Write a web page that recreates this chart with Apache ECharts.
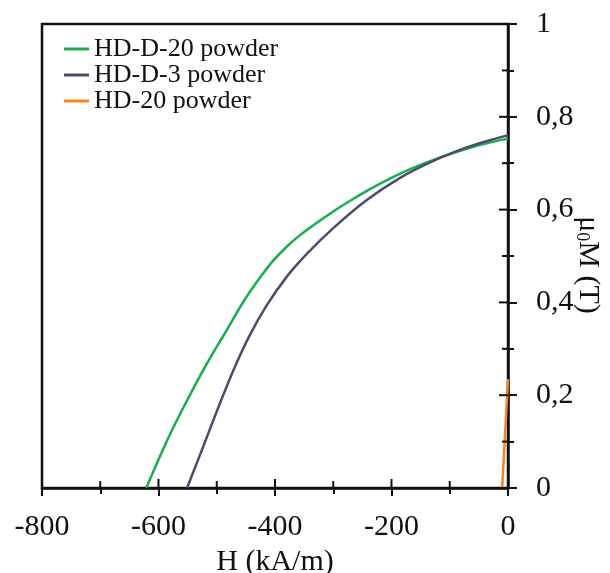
<!DOCTYPE html>
<html><head><meta charset="utf-8">
<script src="https://cdn.jsdelivr.net/npm/echarts@6/dist/echarts.min.js"></script>
<style>html,body{margin:0;padding:0;background:#fff}#c{width:610px;height:573px}</style>
</head><body><div id="c"></div>
<script>
const seriesNames = ['HD-D-20 powder', 'HD-D-3 powder', 'HD-20 powder'];
const seriesColors = ['#1aac50', '#4a4e6b', '#f28528'];

// HD-D-20 powder
const hdd20H = [-621, -586, -557, -517, -483, -454, -426, -403, -380, -357, -330, -300, -271, -243, -186, -128, -71, -30, 0];
const hdd20M = [0, 0.100, 0.174, 0.268, 0.340, 0.402, 0.453, 0.490, 0.520, 0.545, 0.570, 0.596, 0.619, 0.640, 0.677, 0.707, 0.731, 0.745, 0.753];
// HD-D-3 powder
const hdd3H = [-551, -523, -500, -471, -443, -414, -380, -345, -300, -243, -186, -128, -71, -30, 0];
const hdd3M = [0, 0.090, 0.165, 0.255, 0.330, 0.394, 0.455, 0.505, 0.560, 0.620, 0.668, 0.705, 0.734, 0.750, 0.760];
// HD-20 powder
const hd20H = [-10, 0];
const hd20M = [0, 0.235];

const xMin = -800, xMax = 0, xStep = 200;
const yMin = 0, yMax = 1, yStep = 0.2;
const xTitle = 'H (kA/m)';
// every tick position (major + minor), for the inner half of the crossing ticks
const xTickVals = [-800, -700, -600, -500, -400, -300, -200, -100, 0];
const yTickVals = [0, 0.1, 0.2, 0.3, 0.4, 0.5, 0.6, 0.7, 0.8, 0.9, 1];

const FONT = 'Liberation Serif';
const INK = '#111';

function pairs(a, b) { return a.map((v, i) => [v, b[i]]); }

const G = { left: 42, right: 102, top: 24, bottom: 85 };
const chart = echarts.init(document.getElementById('c'), null, { renderer: 'canvas' });

const tickStyle = { color: INK, width: 2 };
const mainX = {
  type: 'value', position: 'bottom', min: xMin, max: xMax, interval: xStep,
  axisLine: { show: true, onZero: false, lineStyle: { color: INK, width: 2.5 } },
  axisTick: { show: true, length: 8, lineStyle: tickStyle },
  minorTick: { show: true, splitNumber: 2, length: 6, lineStyle: tickStyle },
  splitLine: { show: false }, minorSplitLine: { show: false },
  axisLabel: { margin: 24, fontFamily: FONT, fontSize: 30, color: INK },
  name: xTitle, nameLocation: 'middle', nameGap: 47,
  nameTextStyle: { fontFamily: FONT, fontSize: 30, color: INK }
};
const mainY = {
  type: 'value', position: 'right', min: yMin, max: yMax, interval: yStep,
  axisLine: { show: true, onZero: false, lineStyle: { color: INK, width: 2.5 } },
  axisTick: { show: true, length: 9, lineStyle: tickStyle },
  minorTick: { show: true, splitNumber: 2, length: 6, lineStyle: tickStyle },
  splitLine: { show: false }, minorSplitLine: { show: false },
  axisLabel: { margin: 28, fontFamily: FONT, fontSize: 30, color: INK,
    formatter: v => String(+v.toFixed(1)).replace('.', ',') }
};

const dataSets = [pairs(hdd20H, hdd20M), pairs(hdd3H, hdd3M), pairs(hd20H, hd20M)];

const series = seriesNames.map((n, i) => ({
  name: n, type: 'line', data: dataSets[i], showSymbol: false, symbol: 'none', smooth: 0.35,
  lineStyle: { color: seriesColors[i], width: 2.5 }, itemStyle: { color: seriesColors[i] }
}));

const isMajor = (v, step) => Math.abs(v / step - Math.round(v / step)) < 1e-6;

// inner halves of x ticks (pointing up from the bottom axis)
series.push({
  name: 'xInnerTicks', type: 'custom', silent: true, clip: false, z: 5,
  data: xTickVals.map(v => [v, yMin]),
  renderItem: (params, api) => {
    const v = api.value(0);
    const p = api.coord([v, yMin]);
    const len = isMajor(v, xStep) ? 9 : 7;
    return { type: 'line', shape: { x1: p[0], y1: p[1], x2: p[0], y2: p[1] - len },
      style: { stroke: INK, lineWidth: 2 } };
  }
});
// inner halves of y ticks (pointing left from the right axis)
series.push({
  name: 'yInnerTicks', type: 'custom', silent: true, clip: false, z: 5,
  data: yTickVals.map(v => [xMax, v]),
  renderItem: (params, api) => {
    const v = api.value(1);
    const p = api.coord([xMax, v]);
    const len = isMajor(v, yStep) ? 9 : 6;
    return { type: 'line', shape: { x1: p[0], y1: p[1], x2: p[0] - len, y2: p[1] },
      style: { stroke: INK, lineWidth: 2 } };
  }
});

chart.setOption({
  animation: false,
  backgroundColor: '#fff',
  grid: Object.assign({ show: true, borderColor: INK, borderWidth: 2.5, backgroundColor: 'transparent',
    containLabel: false, outerBoundsMode: 'none' }, G),
  xAxis: mainX,
  yAxis: mainY,
  legend: {
    orient: 'vertical', left: 59, top: 31, itemWidth: 25, itemHeight: 3, itemGap: 0,
    icon: 'rect', data: seriesNames,
    textStyle: { fontFamily: FONT, fontSize: 26, color: INK }
  },
  graphic: [{
    type: 'text', x: 588, y: 265, rotation: -Math.PI / 2,
    style: {
      text: '{a|μ}{s|0}{a|M (T)}', textAlign: 'center', textVerticalAlign: 'middle',
      fill: INK, fontFamily: FONT,
      rich: {
        a: { fontFamily: FONT, fontSize: 30, color: INK },
        s: { fontFamily: FONT, fontSize: 18, color: INK, padding: [13, 0, 0, 0] }
      }
    }
  }],
  series: series
});
</script></body></html>
